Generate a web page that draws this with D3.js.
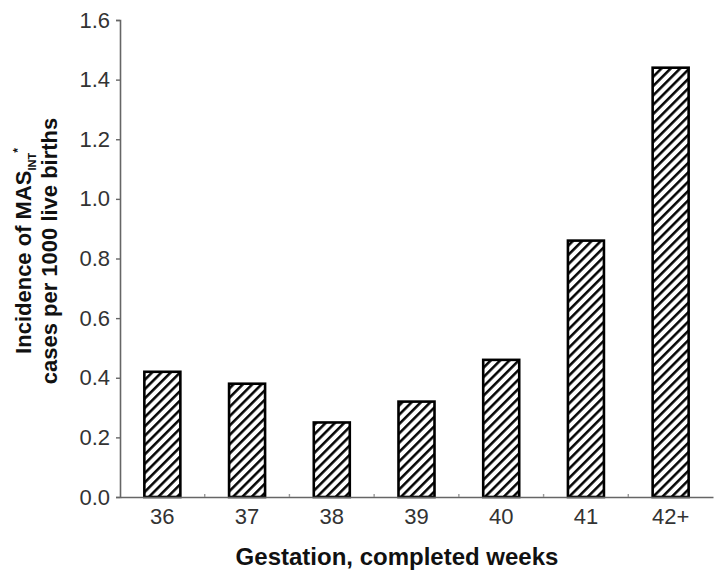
<!DOCTYPE html>
<html>
<head>
<meta charset="utf-8">
<script src="https://cdn.jsdelivr.net/npm/d3@7"></script>
<style>
body{margin:0;background:#fff;}
text{font-family:"Liberation Sans",Arial,sans-serif;}
</style>
</head>
<body>
<div id="chart"></div>
<script>
(function(){

const weeks = ["36","37","38","39","40","41","42+"];
const incidence = [0.42,0.38,0.25,0.32,0.46,0.86,1.44];
const yTicks = [0,0.2,0.4,0.6,0.8,1.0,1.2,1.4,1.6];

const width = 715;
const height = 574;
const margin = {top:20,right:2,bottom:77,left:120};

const svg = d3.select("#chart")
.append("svg")
.attr("width",width)
.attr("height",height);

const defs = svg.append("defs");
const pat = defs.append("pattern")
.attr("id","hatch")
.attr("patternUnits","userSpaceOnUse")
.attr("width",6.6)
.attr("height",6.6)
.attr("patternTransform","rotate(45)");
pat.append("rect").attr("width",6.6).attr("height",6.6).attr("fill","#fff");
pat.append("line")
.attr("x1",1.3).attr("y1",0).attr("x2",1.3).attr("y2",6.6)
.attr("stroke","#000").attr("stroke-width",2.5);

const x = d3.scaleBand()
.domain(weeks)
.range([margin.left,width-margin.right])
.paddingInner(0.575)
.paddingOuter(0.2875);

const y = d3.scaleLinear()
.domain([0,1.6])
.range([height-margin.bottom,margin.top]);

// bars
svg.selectAll("rect.bar")
.data(weeks)
.enter()
.append("rect")
.attr("class","bar")
.attr("x",d=>x(d))
.attr("y",(d,i)=>y(incidence[i]))
.attr("width",x.bandwidth())
.attr("height",(d,i)=>y(0)-y(incidence[i]))
.attr("fill","url(#hatch)")
.attr("stroke","#000")
.attr("stroke-width",2.6);

// x axis
const gx = svg.append("g")
.attr("transform",`translate(0,${y(0)})`)
.call(d3.axisBottom(x).tickSize(0).tickPadding(11));
gx.select(".domain").attr("stroke","#666").attr("stroke-width",1.6);
gx.selectAll("text").attr("font-size",22).attr("fill","#333")
.style("font-family","'Liberation Sans',Arial,sans-serif");

// little marks between the categories
svg.selectAll("line.minor")
.data(weeks.slice(0,-1))
.enter()
.append("line")
.attr("class","minor")
.attr("x1",d=>x(d)+x.bandwidth()/2+x.step()/2)
.attr("x2",d=>x(d)+x.bandwidth()/2+x.step()/2)
.attr("y1",y(0))
.attr("y2",y(0)-3)
.attr("stroke","#999")
.attr("stroke-width",1.4);

// y axis
const gy = svg.append("g")
.attr("transform",`translate(${margin.left},0)`)
.call(d3.axisLeft(y).tickValues(yTicks).tickFormat(d3.format(".1f")).tickSize(4).tickPadding(6));
gy.select(".domain").attr("stroke","#666").attr("stroke-width",1.6);
gy.selectAll(".tick line").attr("stroke","#666").attr("stroke-width",1.4);
gy.selectAll("text").attr("font-size",22).attr("fill","#333")
.style("font-family","'Liberation Sans',Arial,sans-serif");

// x title
svg.append("text")
.attr("x",397)
.attr("y",565)
.attr("text-anchor","middle")
.attr("font-size",24)
.attr("font-weight","bold")
.attr("fill","#111")
.text("Gestation, completed weeks");

// y title, two lines
const yt = svg.append("g")
.attr("transform","translate(0,251) rotate(-90)");
const l1 = yt.append("text")
.attr("x",0).attr("y",31)
.attr("text-anchor","middle")
.attr("font-size",22)
.attr("font-weight","bold")
.attr("fill","#111");
l1.append("tspan").text("Incidence of MAS");
l1.append("tspan").attr("font-size",11).attr("dy",5).text("INT");
l1.append("tspan").attr("font-size",12).attr("dy",-14).text("*");

yt.append("text")
.attr("x",0).attr("y",57)
.attr("text-anchor","middle")
.attr("font-size",22)
.attr("font-weight","bold")
.attr("fill","#111")
.text("cases per 1000 live births");

})();
</script>
</body>
</html>
